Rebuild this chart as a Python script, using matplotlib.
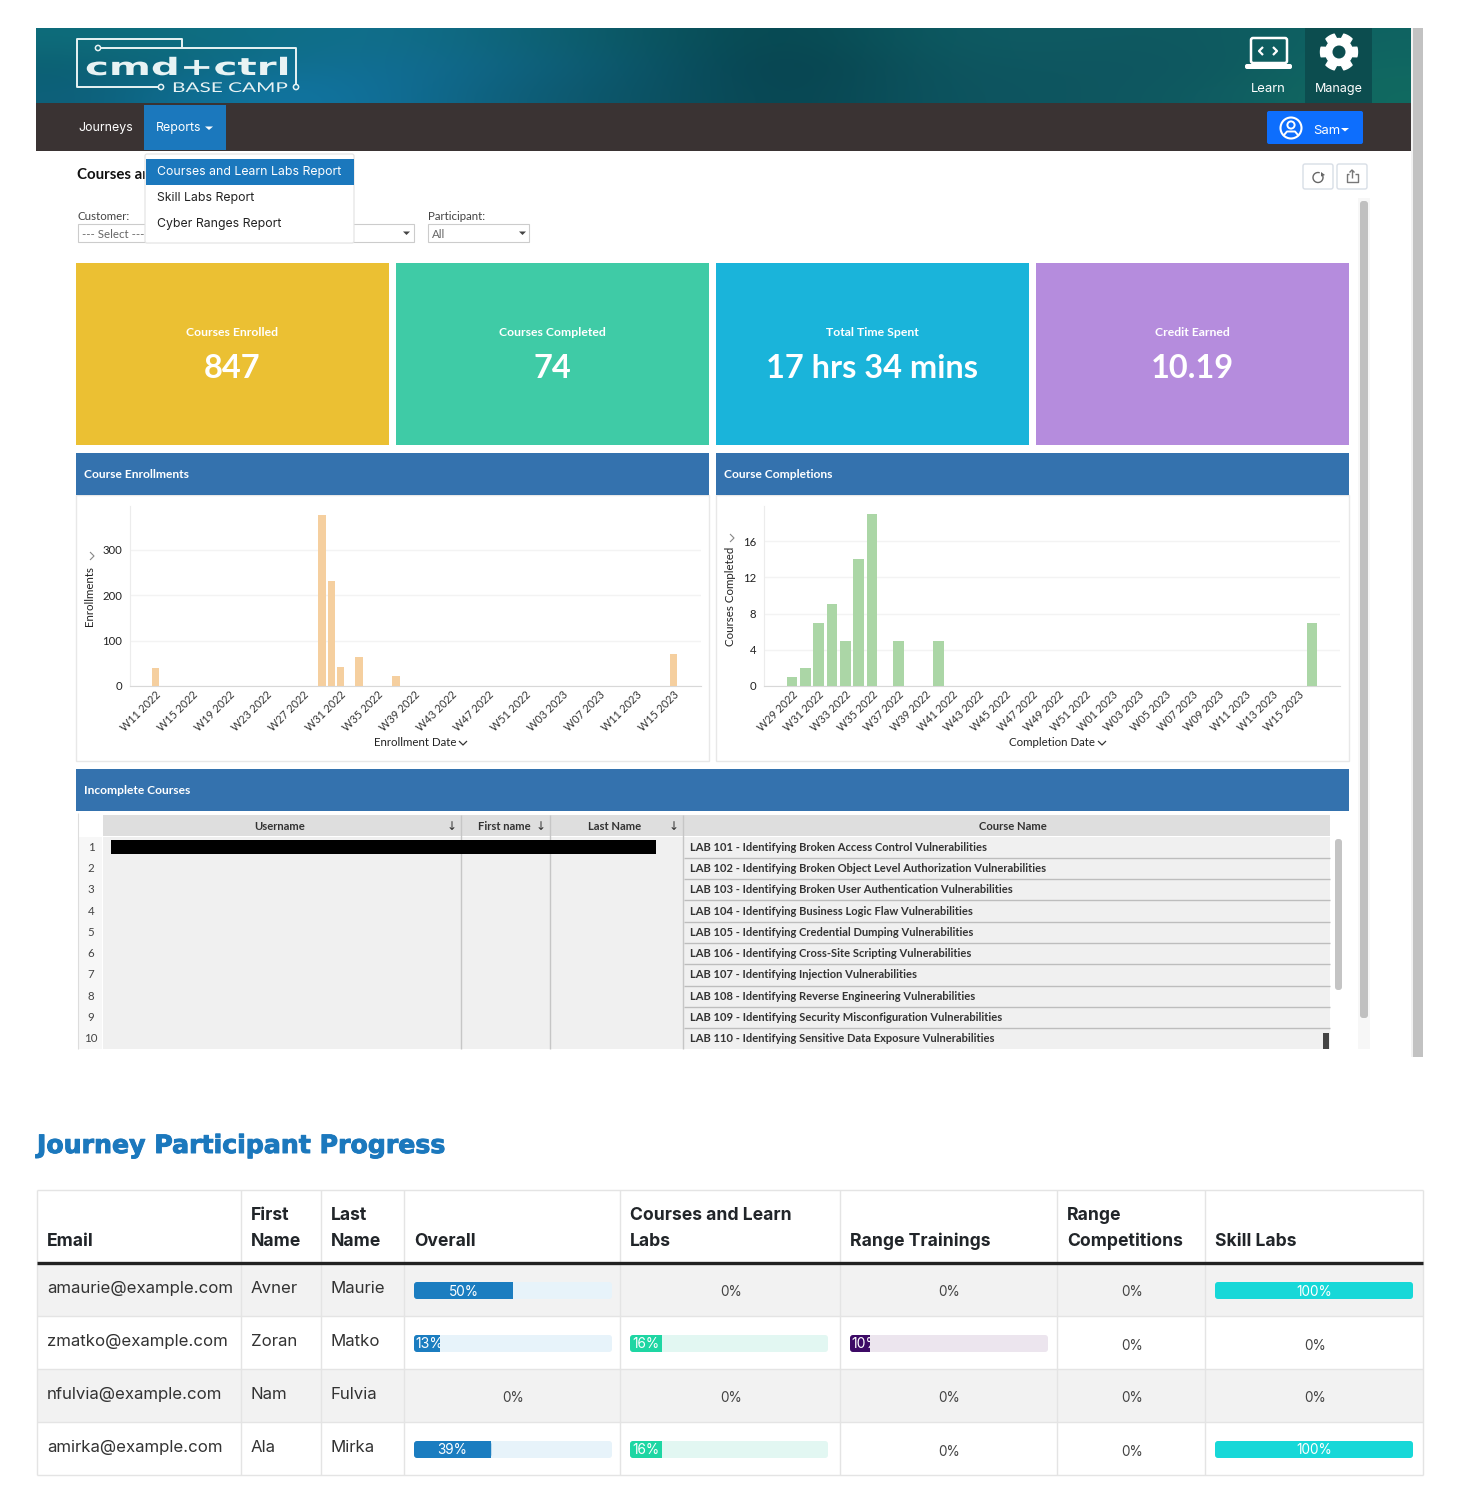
#!/usr/bin/env python3
"""Courses report dashboard screenshot and journey progress table."""
import numpy as np
import matplotlib
matplotlib.use('Agg')
import matplotlib.pyplot as plt
from matplotlib.colors import to_rgb
from matplotlib.patches import Rectangle, FancyBboxPatch, Circle, Polygon, Arc
from matplotlib.patheffects import AbstractPathEffect, withStroke
from matplotlib.transforms import Affine2D

W, H = 1460, 1500

enroll_weeks = [
    'W11 2022', 'W12 2022', 'W13 2022', 'W14 2022', 'W15 2022', 'W16 2022', 'W17 2022', 'W18 2022',
    'W19 2022', 'W20 2022', 'W21 2022', 'W22 2022', 'W23 2022', 'W24 2022', 'W25 2022', 'W26 2022',
    'W27 2022', 'W28 2022', 'W29 2022', 'W30 2022', 'W31 2022', 'W32 2022', 'W33 2022', 'W34 2022',
    'W35 2022', 'W36 2022', 'W37 2022', 'W38 2022', 'W39 2022', 'W40 2022', 'W41 2022', 'W42 2022',
    'W43 2022', 'W44 2022', 'W45 2022', 'W46 2022', 'W47 2022', 'W48 2022', 'W49 2022', 'W50 2022',
    'W51 2022', 'W52 2022', 'W01 2023', 'W02 2023', 'W03 2023', 'W04 2023', 'W05 2023', 'W06 2023',
    'W07 2023', 'W08 2023', 'W09 2023', 'W10 2023', 'W11 2023', 'W12 2023', 'W13 2023', 'W14 2023',
    'W15 2023',
]
enroll_values = [
    40, 0, 0, 0, 0, 0, 0, 0,
    0, 0, 0, 0, 0, 0, 0, 0,
    0, 0, 378, 231, 43, 0, 63, 0,
    0, 0, 21, 0, 0, 0, 0, 0,
    0, 0, 0, 0, 0, 0, 0, 0,
    0, 0, 0, 0, 0, 0, 0, 0,
    0, 0, 0, 0, 0, 0, 0, 0,
    71,
]
complete_weeks = [
    'W29 2022', 'W30 2022', 'W31 2022', 'W32 2022', 'W33 2022', 'W34 2022', 'W35 2022', 'W36 2022',
    'W37 2022', 'W38 2022', 'W39 2022', 'W40 2022', 'W41 2022', 'W42 2022', 'W43 2022', 'W44 2022',
    'W45 2022', 'W46 2022', 'W47 2022', 'W48 2022', 'W49 2022', 'W50 2022', 'W51 2022', 'W52 2022',
    'W01 2023', 'W02 2023', 'W03 2023', 'W04 2023', 'W05 2023', 'W06 2023', 'W07 2023', 'W08 2023',
    'W09 2023', 'W10 2023', 'W11 2023', 'W12 2023', 'W13 2023', 'W14 2023', 'W15 2023', 'W16 2023',
]
complete_values = [
    1, 2, 7, 9, 5, 14, 19, 0,
    5, 0, 0, 5, 0, 0, 0, 0,
    0, 0, 0, 0, 0, 0, 0, 0,
    0, 0, 0, 0, 0, 0, 0, 0,
    0, 0, 0, 0, 0, 0, 0, 7,
]

tile_titles = ['Courses Enrolled', 'Courses Completed', 'Total Time Spent', 'Credit Earned']
tile_values = ['847', '74', '17 hrs 34 mins', '10.19']
tile_colors = ['#EBC033', '#3FCBA6', '#1AB4DA', '#B58CDD']

course_names = [
    'LAB 101 - Identifying Broken Access Control Vulnerabilities',
    'LAB 102 - Identifying Broken Object Level Authorization Vulnerabilities',
    'LAB 103 - Identifying Broken User Authentication Vulnerabilities',
    'LAB 104 - Identifying Business Logic Flaw Vulnerabilities',
    'LAB 105 - Identifying Credential Dumping Vulnerabilities',
    'LAB 106 - Identifying Cross-Site Scripting Vulnerabilities',
    'LAB 107 - Identifying Injection Vulnerabilities',
    'LAB 108 - Identifying Reverse Engineering Vulnerabilities',
    'LAB 109 - Identifying Security Misconfiguration Vulnerabilities',
    'LAB 110 - Identifying Sensitive Data Exposure Vulnerabilities',
]

emails = ['amaurie@example.com', 'zmatko@example.com', 'nfulvia@example.com', 'amirka@example.com']
first_names = ['Avner', 'Zoran', 'Nam', 'Ala']
last_names = ['Maurie', 'Matko', 'Fulvia', 'Mirka']
overall_pct = [50, 13, 0, 39]
courses_pct = [0, 16, 0, 16]
range_train_pct = [0, 10, 0, 0]
range_comp_pct = [0, 0, 0, 0]
skill_pct = [100, 0, 0, 100]

# banner colours, coarse left to right, three rows
banner_colors = [
    ['#0E6C7A', '#0E6E84', '#11708F', '#0E6478', '#0B5560', '#06454E', '#0D5A62', '#0F5A62', '#0E5860', '#0F6462'],
    ['#0C6072', '#0F6F8C', '#126F97', '#0F6380', '#0B5466', '#063F4A', '#0E5660', '#0E5660', '#0E5660', '#106862'],
    ['#0D5F78', '#1077A4', '#11709A', '#0E5E78', '#0C5263', '#07434E', '#0D5460', '#0E555F', '#0F5A62', '#116A60'],
]

BLUE = '#1B78BD'
HEAD = '#3472AE'


class Stretch(AbstractPathEffect):
    # widens a text's glyphs sideways, for the logo lettering
    def __init__(self, sx):
        super().__init__()
        self.sx = sx

    def draw_path(self, renderer, gc, tpath, affine, rgbFace=None):
        renderer.draw_path(gc, tpath, Affine2D().scale(self.sx, 1) + affine, rgbFace)


fig = plt.figure(figsize=(W / 100, H / 100), dpi=100, facecolor='white')
bg = fig.add_axes([0, 0, 1, 1])
bg.set_axis_off()


def txt(x, y, s, px, color='#222222', family='Lato', weight='normal', ha='left', va='center', **kw):
    return bg.text(x, y, s, fontsize=px * 0.72, color=color, family=family, fontweight=weight,
                   ha=ha, va=va, **kw)


def rect(x0, y0, x1, y1, color, ec='none', lw=0, z=1):
    p = Rectangle((x0, y0), x1 - x0, y1 - y0, facecolor=color, edgecolor=ec, linewidth=lw, zorder=z)
    bg.add_patch(p)
    return p


def rbox(x0, y0, x1, y1, color, r=3, ec='none', lw=0, z=1):
    p = FancyBboxPatch((x0, y0), x1 - x0, y1 - y0, boxstyle=f'round,pad=0,rounding_size={r}',
                       facecolor=color, edgecolor=ec, linewidth=lw, zorder=z)
    bg.add_patch(p)
    return p


def line(xs, ys, color='#cccccc', lw=1.0, z=2):
    bg.plot(xs, ys, color=color, linewidth=lw, zorder=z, solid_capstyle='butt')


def chevron(x, y, s=4, color='#333333', side=False):
    if side:
        line([x - s / 2, x + s / 2, x - s / 2], [y - s, y, y + s], color, 0.8, 6)
    else:
        line([x - s, x, x + s], [y - s / 2, y + s / 2, y - s / 2], color, 0.9, 6)


# banner
banner = np.array([[to_rgb(c) for c in row] for row in banner_colors])
bg.imshow(banner, extent=(36, 1411, 103, 28), aspect='auto', interpolation='bicubic', zorder=0)
rect(1305, 28, 1372, 103, '#0C4D4F', z=1)
rect(36, 103, 1411, 151, '#3A3333')
rect(144, 105, 226, 150, BLUE, z=2)
rect(1411, 28, 1413, 1057, '#f2f2f2')
rect(1413, 28, 1423, 1057, '#c2c2c2')

# logo outline
logo = '#E8F3F4'
line([158, 77, 77, 182, 182], [87, 87, 39, 39, 48], logo, 1.4, 3)
line([100, 296, 296], [48, 48, 85], logo, 1.4, 3)
bg.add_patch(Circle((161, 87), 2.6, facecolor='none', edgecolor=logo, linewidth=1.1, zorder=3))
bg.add_patch(Circle((296, 87), 2.6, facecolor='none', edgecolor=logo, linewidth=1.1, zorder=3))
bg.add_patch(Circle((98, 48), 2.6, facecolor='none', edgecolor=logo, linewidth=1.1, zorder=3))
txt(85, 75, 'cmd+ctrl', 24, logo, 'DejaVu Sans', 'bold', va='baseline', zorder=4,
    path_effects=[Stretch(1.68)])
txt(172, 92, 'BASE CAMP', 13.5, logo, 'Lato', 'normal', va='baseline', zorder=4,
    path_effects=[Stretch(1.54)])

# learn and manage icons
rbox(1251, 38, 1287, 63, 'none', 2, 'white', 1.8, 4)
rbox(1245, 64, 1292, 69, 'white', 2, z=4)
line([1263, 1259, 1263], [47, 51, 55], 'white', 1.6, 5)
line([1273, 1277, 1273], [47, 51, 55], 'white', 1.6, 5)
gear_pts = []
for deg in np.arange(0, 360, 5):
    phase = (deg + 30) % 60
    r = 18.5 if 12 <= phase <= 48 else 13.5
    gear_pts.append((1339 + r * np.cos(np.deg2rad(deg)), 52 + r * np.sin(np.deg2rad(deg))))
bg.add_patch(Polygon(gear_pts, closed=True, facecolor='white', edgecolor='white', linewidth=1, joinstyle='round', zorder=4))
bg.add_patch(Circle((1339, 52), 6.5, facecolor='#0C4D4F', zorder=5))
txt(1268, 89, 'Learn', 13, 'white', 'Inter', ha='center', zorder=4)
txt(1339, 89, 'Manage', 12.6, 'white', 'Inter', ha='center', zorder=4)

# nav bar
txt(78, 128, 'Journeys', 12.4, 'white', 'Inter', zorder=4)
txt(156, 128, 'Reports', 12.4, 'white', 'Inter', zorder=4)
bg.add_patch(Polygon([(205, 126.5), (213, 126.5), (209, 130)], facecolor='white', zorder=4))
rbox(1267, 111, 1363, 144, '#0D6EFD', 2, z=3)
bg.add_patch(Circle((1291, 128), 10.5, facecolor='none', edgecolor='white', linewidth=1.5, zorder=4))
bg.add_patch(Circle((1291, 125), 3.6, facecolor='none', edgecolor='white', linewidth=1.4, zorder=4))
bg.plot([1284, 1287, 1295, 1298], [135, 131.5, 131.5, 135], color='white', linewidth=1.4, zorder=4)
txt(1313, 130.5, 'Sam', 13, 'white', 'Inter', zorder=4)
bg.add_patch(Polygon([(1341, 128), (1349, 128), (1345, 131.5)], facecolor='white', zorder=4))

# page title and filters
txt(77, 175, 'Courses ar', 15, '#111111', 'Lato', 'bold')
txt(78, 216, 'Customer:', 11.5, '#444444')
rect(78, 224, 150, 242, 'white', '#cccccc', 0.8)
txt(82, 234, '--- Select ---', 11.5, '#666666')
rect(340, 224, 414, 242, 'white', '#cccccc', 0.8)
bg.add_patch(Polygon([(403, 231.5), (410, 231.5), (406.5, 235)], facecolor='#444444', zorder=3))
txt(428, 216, 'Participant:', 11.5, '#444444')
rect(428, 224, 529, 242, 'white', '#cccccc', 0.8)
txt(432, 234, 'All', 11.5, '#666666')
bg.add_patch(Polygon([(519, 231.5), (526, 231.5), (522.5, 235)], facecolor='#444444', zorder=3))

# reports menu on top of the filters
rbox(145, 154, 354, 243, 'white', 2, '#e2e2e2', 0.8, 5)
rect(146, 159, 354, 185, BLUE, z=6)
txt(157, 171.5, 'Courses and Learn Labs Report', 12.3, 'white', 'Inter', zorder=7)
txt(157, 197.5, 'Skill Labs Report', 12.3, '#222222', 'Inter', zorder=7)
txt(157, 223.5, 'Cyber Ranges Report', 12.3, '#222222', 'Inter', zorder=7)

# refresh and share buttons
rbox(1303, 164, 1333, 189, 'white', 2, '#d8dee6', 1.0)
rbox(1337, 164, 1367, 189, 'white', 2, '#d8dee6', 1.0)
bg.add_patch(Arc((1318, 177.5), 10, 10, theta1=-30, theta2=290, edgecolor='#666666', linewidth=1, zorder=3))
bg.add_patch(Polygon([(1321, 172), (1325, 175), (1321, 176.5)], facecolor='#666666', zorder=3))
line([1349, 1346.5, 1346.5, 1358, 1358, 1355], [174, 174, 182, 182, 174, 174], '#777777', 1.0, 3)
line([1352, 1352], [178, 170], '#777777', 1.0, 3)
line([1349.5, 1352, 1354.5], [172.5, 170, 172.5], '#777777', 1.0, 3)

# page scrollbar
rect(1358, 198, 1370, 1049, '#f7f7f7')
rbox(1360, 201, 1368, 1018, '#c0c0c0', 3, z=2)

# stat tiles
tile_x = [(76, 389), (396, 709), (716, 1029), (1036, 1349)]
for (x0, x1), title, value, col in zip(tile_x, tile_titles, tile_values, tile_colors):
    rect(x0, 263, x1, 445, col)
    mid = (x0 + x1) / 2
    txt(mid, 332, title, 12.2, 'white', 'Lato', 'bold', ha='center', zorder=3)
    txt(mid, 368, value, 32.5, 'white', 'Lato', 'bold', ha='center', zorder=3)

# section headers and chart panels
rect(76, 495, 709, 761, 'white', '#e8e8e8', 1.0)
rect(716, 495, 1349, 761, 'white', '#e8e8e8', 1.0)
rect(76, 453, 709, 495, HEAD, z=2)
rect(716, 453, 1349, 495, HEAD, z=2)
rect(76, 769, 1349, 811, HEAD, z=2)
txt(84, 475, 'Course Enrollments', 12, 'white', 'Lato', 'bold', zorder=3)
txt(724, 475, 'Course Completions', 12, 'white', 'Lato', 'bold', zorder=3)
txt(84, 791, 'Incomplete Courses', 12, 'white', 'Lato', 'bold', zorder=3)

# incomplete courses grid
rect(76, 811, 1345, 1049, 'white')
line([78, 78], [813, 1049], '#dddddd', 0.8)
rect(79, 837, 102, 1049, '#f7f7f7')
rect(103, 815, 1330, 836, '#DEDEDE')
rect(103, 837, 1330, 1049, '#F0F0F0')
for x in [461, 550, 683]:
    line([x, x], [815, 1049], '#c6c6c6', 1.0, 3)
txt(280, 826, 'Username', 11.2, '#333333', weight='bold', ha='center')
txt(504, 826, 'First name', 11.2, '#333333', weight='bold', ha='center')
txt(615, 826, 'Last Name', 11.2, '#333333', weight='bold', ha='center')
txt(1013, 826, 'Course Name', 11.2, '#333333', weight='bold', ha='center')
for x in [451.5, 540.5, 673.5]:
    txt(x, 826, '↓', 12, '#333333', 'DejaVu Sans', ha='center')
rect(111, 840, 656, 854, 'black', z=4)
for i, name in enumerate(course_names):
    yc = 847.2 + i * 21.3
    txt(91, yc, str(i + 1), 11.5, '#444444', ha='center', zorder=3)
    txt(690, yc, name, 11.1, '#333333', weight='bold', zorder=3)
    if i < 9:
        line([684, 1330], [yc + 10.6, yc + 10.6], '#bdbdbd', 1.0, 3)
rect(1323, 1033, 1329, 1049, '#444444', z=4)
rbox(1335, 839, 1342, 990, '#c4c4c4', 3, z=2)

# bar charts


def bar_chart(px_left, px_right, px_top, px_bottom, weeks, values, color, ymax, xlim, yticks, step):
    ax = fig.add_axes([px_left / W, 1 - px_bottom / H, (px_right - px_left) / W, (px_bottom - px_top) / H],
                      zorder=3)
    ax.patch.set_alpha(0)
    pos = np.arange(len(weeks))
    ax.bar(pos, values, width=0.8, color=color, zorder=3)
    ax.set_xlim(*xlim)
    ax.set_ylim(0, ymax)
    ax.set_yticks(yticks)
    ax.set_xticks(pos[::step])
    ax.set_xticklabels(weeks[::step], rotation=45, ha='right', rotation_mode='anchor',
                       fontsize=7.8, family='Lato', color='#333333')
    ax.tick_params(axis='x', length=0, pad=2)
    ax.tick_params(axis='y', length=0, pad=5.5, labelsize=8.2, labelcolor='#222222')
    for lab in ax.get_yticklabels():
        lab.set_family('Lato')
    ax.grid(axis='y', color='#f3f3f3', linewidth=1, zorder=0)
    for side in ['top', 'right']:
        ax.spines[side].set_visible(False)
    ax.spines['left'].set_color('#ececec')
    ax.spines['bottom'].set_color('#d8d8d8')
    return ax


bar_chart(130, 701, 506, 686, enroll_weeks, enroll_values, '#F5CF9F', 397, (-2.77, 58.96), [0, 100, 200, 300], 4)
bar_chart(764, 1340, 506, 686, complete_weeks, complete_values, '#ABD6A6', 19.87, (-2.1, 41.1), [0, 4, 8, 12, 16], 2)
txt(90, 596, 'Enrollments', 11.5, '#222222', ha='center', rotation=90, zorder=4)
txt(730, 596, 'Courses Completed', 11.5, '#222222', ha='center', rotation=90, zorder=4)
txt(415, 742.5, 'Enrollment Date', 11.5, '#222222', ha='center', zorder=4)
txt(1052, 742.5, 'Completion Date', 11.5, '#222222', ha='center', zorder=4)
chevron(92, 556, 4, '#888888', side=True)
chevron(732, 538, 4, '#888888', side=True)
chevron(463, 743, 4)
chevron(1102, 743, 4)

# progress table
txt(37, 1146, 'Journey Participant Progress', 25.2, BLUE, 'DejaVu Sans', 'bold',
    path_effects=[withStroke(linewidth=0.7, foreground=BLUE)])
col_x = [37, 241, 321, 404, 620, 840, 1057, 1205, 1423]
row_y = [1263, 1316, 1369, 1422, 1475]
for i in range(4):
    if i % 2 == 0:
        rect(37, row_y[i], 1423, row_y[i + 1], '#F2F2F2')
for x in col_x:
    line([x, x], [1190, 1475], '#e4e4e4', 1.0)
for y in [1190] + row_y[1:]:
    line([37, 1423], [y, y], '#e4e4e4', 1.0)
line([37, 1423], [1263, 1263], '#222222', 2.4, 3)

headers = [['Email'], ['First', 'Name'], ['Last', 'Name'], ['Overall'], ['Courses and Learn', 'Labs'],
           ['Range Trainings'], ['Range', 'Competitions'], ['Skill Labs']]
for x, head in zip(col_x, headers):
    for k, part in enumerate(reversed(head)):
        txt(x + 10, 1246.5 - k * 26.5, part, 17.6, '#212529', 'Inter', 'bold', va='baseline')

for i in range(4):
    yc = (row_y[i] + row_y[i + 1]) / 2 + 3.5
    txt(47, yc, emails[i], 16.8, '#333333', 'Inter', va='baseline')
    txt(251, yc, first_names[i], 16.8, '#333333', 'Inter', va='baseline')
    txt(331, yc, last_names[i], 16.8, '#333333', 'Inter', va='baseline')

pct_cols = [(overall_pct, 3, '#1B7DC0', '#E7F3FA'), (courses_pct, 4, '#1ED6A3', '#E2F7F2'),
            (range_train_pct, 5, '#3D0A66', '#ECE5EE'), (range_comp_pct, 6, '#17D8D8', '#E0F8F8'),
            (skill_pct, 7, '#17D8D8', '#E0F8F8')]
for pcts, c, fill, track in pct_cols:
    x0 = col_x[c] + 10
    x1 = x0 + 198
    for i, pct in enumerate(pcts):
        yc = (row_y[i] + row_y[i + 1]) / 2
        if pct == 0:
            txt((col_x[c] + col_x[c + 1]) / 2 + 1, yc + 3, '0%', 13.6, '#444444', 'Inter', ha='center')
            continue
        rbox(x0, yc - 7.5, x1, yc + 9.5, track, 3, z=2)
        xf = x0 + (x1 - x0) * pct / 100
        rbox(x0, yc - 7.5, xf, yc + 9.5, fill, 3, z=3)
        if pct < 100:
            rect((x0 + xf) / 2, yc - 7.5, xf, yc + 9.5, fill, z=3)
        if xf - x0 < 29:
            lab = txt(x0 + 1, yc + 2, f'{pct}%', 14, 'white', 'Inter', zorder=4)
        else:
            lab = txt((x0 + xf) / 2, yc + 2, f'{pct}%', 13.6, 'white', 'Inter', ha='center', zorder=4)
        lab.set_clip_path(rect(x0, yc - 7.5, xf, yc + 9.5, 'none', z=0))
        lab.set_clip_on(True)

bg.set_xlim(0, W)
bg.set_ylim(H, 0)
fig.savefig('out.png', dpi=100, facecolor='white')
